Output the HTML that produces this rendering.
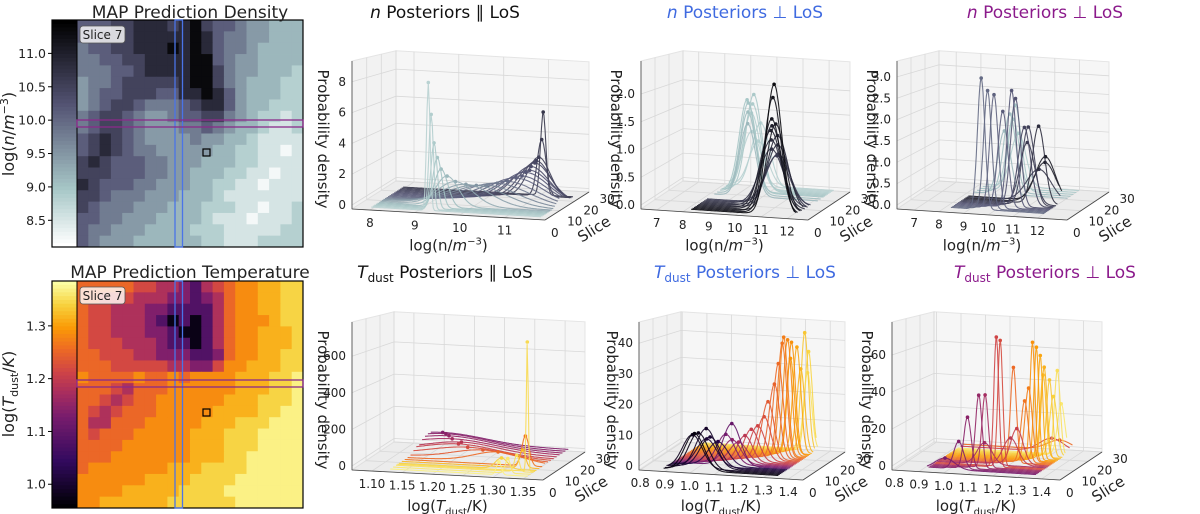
<!DOCTYPE html>
<html><head><meta charset="utf-8"><style>
body{margin:0;background:#fff;}
svg{display:block;font-family:"DejaVu Sans","Liberation Sans",sans-serif;}
</style></head><body>
<svg id="fig" width="1200" height="514" viewBox="0 0 1200 514" xmlns="http://www.w3.org/2000/svg"></svg>
<script>
// ---------- DATA ----------
const densityGrid = [
"33322111210233455666","33222111110134455666","43322111010134456666","44332211110034556666",
"44433211110024556667","54432222210024566677","54332223311013566677","54322344432113566777",
"43223455433224567787","43223455544345667887","32123455554556678888","32123445555566778898",
"21233344555666778888","22233344556667788988","12333445556677889888","22344455566678888888",
"23444555666777889887","33445556666788898887","34455566667778888877","34555666666778887777"];
const tempGrid = [
"55555443321345667788","55444333221235667788","54433322111135667788","54433321010135666788",
"54433322100135667778","54443332110135667778","55444332221125667788","55544444332246677788",
"65555655656666777889","55543555666666777889","55434556666667778889","54345556666677778899",
"53355566666777888999","54555666667778889999","55556666667778889999","55566666667778899999",
"56666666777888899999","66666677778888999999","66667777788889999999","66777777888888999999"];
const densityTicks = [8.5, 9.0, 9.5, 10.0, 10.5, 11.0];
const tempTicks = [1.0, 1.1, 1.2, 1.3];

// Panel 1: n posteriors parallel LoS
const p1Slices = [0,1,2,3,4,5,6,7,8,9,10,11,12,13,14,15,16,17,18,19,20,21];
const p1Peaks = [9.3,9.33,9.36,9.4,9.45,9.55,9.7,9.9,10.1,10.3,10.5,10.7,10.85,10.95,11.0,11.05,11.05,11.1,11.1,11.12,11.15,11.15];
const p1Heights = [8.3,6.2,4.3,3.3,2.5,2.0,1.6,1.4,1.3,1.3,1.4,1.5,1.7,1.8,2.0,2.1,2.3,2.5,2.6,2.8,4.0,5.9];
const p1Widths = [0.04,0.05,0.07,0.1,0.15,0.25,0.4,0.55,0.65,0.7,0.7,0.65,0.6,0.55,0.5,0.45,0.4,0.35,0.3,0.25,0.1,0.06];
const p1Shades = [0.8,0.78,0.76,0.74,0.72,0.7,0.66,0.62,0.58,0.54,0.5,0.46,0.42,0.4,0.38,0.36,0.34,0.32,0.3,0.28,0.26,0.24];
const p1XTicks = [8,9,10,11];
const p1ZTicks = [0,2,4,6,8];

// Panel 2: n posteriors perp LoS (blue)
const p2Slices = [0,1,2,3,4,5,6,7,8,9,10,11,16,18,20,21,22,23,24,25,26,27];
const p2Peaks = [11.5,11.4,11.3,11.4,11.2,11.1,11.3,11.0,11.2,10.9,11.1,11.0,9.6,9.5,9.4,9.3,9.5,9.4,9.3,9.6,9.2,9.4];
const p2Heights = [2.35,2.1,1.7,1.6,1.55,1.45,1.35,1.25,1.15,1.05,0.95,0.9,1.4,1.6,1.75,1.8,1.9,1.7,1.5,1.3,1.1,0.9];
const p2Widths = [0.3,0.32,0.35,0.35,0.38,0.4,0.4,0.42,0.42,0.45,0.45,0.45,0.3,0.3,0.3,0.3,0.3,0.32,0.32,0.35,0.35,0.35];
const p2Shades = [0.05,0.08,0.1,0.12,0.14,0.16,0.18,0.2,0.22,0.24,0.26,0.28,0.7,0.72,0.74,0.75,0.76,0.77,0.78,0.79,0.8,0.8];
const p2XTicks = [7,8,9,10,11,12];
const p2ZTicks = [0,0.5,1.0,1.5,2.0];

// Panel 3: n posteriors perp LoS (purple)
const p3Slices = [2,3,4,5,6,7,8,9,10,11,12,13,14,18,20,22,24,26];
const p3Peaks = [9.6,9.8,10.0,10.3,10.6,10.7,11.0,11.1,11.0,11.4,11.6,11.3,11.5,9.6,9.7,9.8,9.6,9.7];
const p3Heights = [3.1,2.8,2.7,2.3,2.8,2.6,1.9,1.9,1.5,1.9,1.0,0.8,1.1,1.6,2.0,2.2,1.8,1.4];
const p3Widths = [0.15,0.16,0.17,0.2,0.18,0.2,0.25,0.25,0.3,0.25,0.45,0.5,0.4,0.25,0.25,0.25,0.25,0.3];
const p3Shades = [0.45,0.44,0.42,0.4,0.38,0.36,0.3,0.28,0.26,0.2,0.15,0.25,0.12,0.7,0.72,0.74,0.76,0.78];
const p3XTicks = [7,8,9,10,11,12];
const p3ZTicks = [0,0.5,1.0,1.5,2.0,2.5,3.0];

// Panel 4: T posteriors parallel LoS
const p4Slices = [0,2,4,5,6,8,10,12,14,16,18,20,22,24,26,28];
const p4Peaks = [1.31,1.32,1.33,1.345,1.3,1.33,1.33,1.28,1.25,1.22,1.2,1.2,1.18,1.17,1.16,1.15];
const p4Heights = [70,80,90,720,60,100,170,60,55,55,60,60,65,70,70,65];
const p4Widths = [0.004,0.004,0.004,0.0015,0.01,0.005,0.006,0.04,0.05,0.06,0.06,0.06,0.07,0.07,0.07,0.07];
const p4Shades = [0.97,0.95,0.93,0.92,0.9,0.85,0.72,0.7,0.66,0.62,0.58,0.54,0.5,0.46,0.44,0.42];
const p4XTicks = [1.10,1.15,1.20,1.25,1.30,1.35];
const p4ZTicks = [0,200,400,600];

// Panel 5: T posteriors perp LoS (blue)
const p5Slices = [0,1,2,3,4,5,6,7,8,9,10,11,12,13,14,15,16,17,18,19,20,21,22,23,24,25,26,27];
const p5Peaks = [1.02,1.03,1.0,1.05,1.06,1.04,1.08,1.13,1.1,1.12,1.14,1.16,1.18,1.2,1.22,1.23,1.25,1.26,1.27,1.27,1.28,1.29,1.28,1.3,1.31,1.32,1.33,1.32];
const p5Heights = [12,12,11,13,10,9,8,14,10,8,7,9,11,12,15,20,26,33,40,42,41,40,34,38,30,43,36,28];
const p5Widths = [0.04,0.04,0.04,0.04,0.04,0.04,0.04,0.035,0.035,0.035,0.035,0.03,0.03,0.03,0.028,0.025,0.022,0.02,0.018,0.017,0.017,0.016,0.016,0.016,0.016,0.015,0.015,0.016];
const p5Shades = [0.02,0.04,0.06,0.08,0.1,0.12,0.15,0.35,0.4,0.45,0.5,0.55,0.58,0.6,0.63,0.66,0.68,0.7,0.72,0.74,0.76,0.78,0.8,0.82,0.85,0.88,0.91,0.94];
const p5XTicks = [0.8,0.9,1.0,1.1,1.2,1.3,1.4];
const p5ZTicks = [0,10,20,30,40];

// Panel 6: T posteriors perp LoS (purple)
const p6Slices = [1,2,3,4,5,6,7,8,9,10,11,12,13,14,15,16,17,18,19,20,21,22,24,26];
const p6Peaks = [1.0,1.05,1.08,1.12,1.14,1.18,1.19,1.12,1.22,1.24,1.22,1.26,1.27,1.28,1.29,1.3,1.31,1.3,1.32,1.33,1.34,1.35,1.3,1.32];
const p6Heights = [6,15,28,40,40,72,70,12,15,20,54,35,42,68,65,60,53,48,45,35,50,30,8,6];
const p6Widths = [0.04,0.02,0.015,0.013,0.013,0.01,0.01,0.03,0.03,0.025,0.012,0.015,0.015,0.01,0.01,0.01,0.012,0.012,0.012,0.015,0.012,0.015,0.05,0.05];
const p6Shades = [0.4,0.42,0.44,0.46,0.5,0.6,0.62,0.5,0.55,0.58,0.7,0.72,0.74,0.78,0.8,0.82,0.84,0.86,0.88,0.9,0.93,0.95,0.6,0.7];
const p6XTicks = [0.8,0.9,1.0,1.1,1.2,1.3,1.4];
const p6ZTicks = [0,20,40,60];

const sliceTicks = [0,10,20,30];

// ---------- HELPERS ----------
const NS = "http://www.w3.org/2000/svg";
const svg = document.getElementById('fig');
function mk(tag, attrs, parent){
  const e = document.createElementNS(NS, tag);
  for (const k in attrs) e.setAttribute(k, attrs[k]);
  (parent||svg).appendChild(e);
  return e;
}
function lerpStops(stops, t){
  t = Math.max(0, Math.min(1, t));
  for (let i=1;i<stops.length;i++){
    if (t <= stops[i][0]){
      const a = stops[i-1], b = stops[i], f = (t-a[0])/(b[0]-a[0]);
      const c = a[1].map((v,j)=>Math.round(v+(b[1][j]-v)*f));
      return `rgb(${c[0]},${c[1]},${c[2]})`;
    }
  }
  const l = stops[stops.length-1][1]; return `rgb(${l[0]},${l[1]},${l[2]})`;
}
const BONE = [[0,[0,0,0]],[0.375,[84,84,116]],[0.75,[167,199,199]],[1,[255,255,255]]];
const INF = [[0,[0,0,4]],[0.2,[50,10,94]],[0.4,[120,28,109]],[0.5,[165,44,96]],[0.6,[207,68,70]],[0.7,[237,105,37]],[0.8,[251,155,6]],[0.9,[247,209,61]],[1,[252,255,164]]];
const bone = t => lerpStops(BONE, t);
const inferno = t => lerpStops(INF, t);

function text(x, y, str, opts, parent){
  const t = mk('text', Object.assign({x:x, y:y, 'font-size':12, fill:'#222', 'text-anchor':'middle'}, opts||{}), parent);
  t.textContent = str;
  return t;
}

// ---------- HEATMAPS ----------
function heatmap(g, grid, cmap, top, ticks, tmin, tmax, cbInverted, gamma){
  const x0 = 77, w = 226, h = 227, y0 = top;
  const rows = grid.length, cols = grid[0].length;
  const cw = w/cols, ch = h/rows;
  for (let r=0;r<rows;r++) for (let c=0;c<cols;c++){
    const v = +grid[r][c];
    const cell = mk('rect', {x:(x0+c*cw).toFixed(2), y:(y0+r*ch).toFixed(2), width:(cw+0.4).toFixed(2), height:(ch+0.4).toFixed(2), fill:cmap(0.04+0.93*Math.pow(v/9, gamma))}, g);
    
    
  }
  const cb = mk('g', {}, g);
  
  
  for (let i=0;i<60;i++){
    const t = cbInverted ? i/59 : 1 - i/59;
    mk('rect', {x:52, y:(y0+i*h/60).toFixed(2), width:25, height:(h/60+0.4).toFixed(2), fill:cmap(t)}, cb);
  }
  mk('rect', {x:52, y:y0, width:251, height:h, fill:'none', stroke:'#000', 'stroke-width':1.2}, g);
  mk('line', {x1:77, y1:y0, x2:77, y2:y0+h, stroke:'#000', 'stroke-width':1}, g);
  ticks.forEach(v=>{
    const y = y0 + h - (v - tmin)/(tmax - tmin)*h;
    mk('line', {x1:48, x2:52, y1:y, y2:y, stroke:'#000'}, g);
    const lb = text(46, y+4.5, v.toFixed(1), {'font-size':12.5, 'text-anchor':'end'}, g);
    
    
  });
}

const gD = mk('g', {});  
heatmap(gD, densityGrid, bone, 20, densityTicks, 8.1, 11.5, true, 0.85);
const gT = mk('g', {});  
heatmap(gT, tempGrid, inferno, 281, tempTicks, 0.955, 1.385, false, 0.6);

function overlays(top, bandY, sqY){
  const b = mk('rect', {x:175, y:top, width:7.5, height:227, fill:'none', stroke:'#4a74e8', 'stroke-width':1.3});
   
  const p = mk('rect', {x:77, y:bandY, width:226, height:7, fill:'none', stroke:'#8b2a8b', 'stroke-width':1.3});
   
  const s = mk('rect', {x:203, y:sqY, width:7, height:7, fill:'none', stroke:'#000', 'stroke-width':1.2});
   
  const lab = mk('rect', {x:80, y:top+6, width:45, height:17, rx:3, fill:'rgba(255,255,255,0.8)', stroke:'#555', 'stroke-width':0.8});
   
  const t = text(102.5, top+19, 'Slice 7', {'font-size':12});
   
}
overlays(20, 120, 149);
overlays(281, 380, 409);

let e;
e = text(190, 18, 'MAP Prediction Density', {'font-size':17});  
e = text(190, 278, 'MAP Prediction Temperature', {'font-size':17});  
e = mk('text', {x:0, y:0, 'font-size':16, fill:'#222', 'text-anchor':'middle', transform:'translate(14,134) rotate(-90)'});
e.innerHTML = 'log(<tspan font-style="italic">n</tspan>/<tspan font-style="italic">m</tspan><tspan dy="-6" font-size="11">−3</tspan><tspan dy="6">)</tspan>';
 
e = mk('text', {x:0, y:0, 'font-size':16, fill:'#222', 'text-anchor':'middle', transform:'translate(14,394) rotate(-90)'});
e.innerHTML = 'log(<tspan font-style="italic">T</tspan><tspan dy="4" font-size="11">dust</tspan><tspan dy="-4">/</tspan><tspan font-style="italic">K</tspan>)';
 

// ---------- 3D PANELS ----------
const topLayer = [];
function panel3d(cfg, slices, peaks, heights, widths, shades, xTicks, zTicks){
  const g = mk('g', {});
  
  
  const O = cfg.O, X = cfg.X, S = cfg.S, H = 148, NS_ = 29;
  const P = (xf, sf, z) => [O[0] + xf*X[0] + sf*S[0], O[1] + xf*X[1] + sf*S[1] - z*(1 - 0.12*sf)];
  const xs = v => (v - cfg.xmin)/(cfg.xmax - cfg.xmin);
  const pts = a => a.map(p=>p[0].toFixed(1)+','+p[1].toFixed(1)).join(' ');
  mk('polygon', {points:pts([P(0,0,0),P(0,1,0),P(0,1,H),P(0,0,H)]), fill:'#f2f2f2', stroke:'#e4e4e4'}, g);
  mk('polygon', {points:pts([P(0,1,0),P(1,1,0),P(1,1,H),P(0,1,H)]), fill:'#f6f6f6', stroke:'#e4e4e4'}, g);
  mk('polygon', {points:pts([P(0,0,0),P(1,0,0),P(1,1,0),P(0,1,0)]), fill:'#ececec', stroke:'#e0e0e0'}, g);
  xTicks.forEach(v=>{
    const f = xs(v);
    mk('polyline', {points:pts([P(f,0,0),P(f,1,0),P(f,1,H)]), fill:'none', stroke:'#d8d8d8', 'stroke-width':0.8}, g);
  });
  sliceTicks.forEach(v=>{
    const f = v/30;
    mk('polyline', {points:pts([P(1,f,0),P(0,f,0),P(0,f,H)]), fill:'none', stroke:'#d8d8d8', 'stroke-width':0.8}, g);
  });
  zTicks.forEach(v=>{
    const z = v*cfg.zs + 4;
    if (z > H) return;
    mk('polyline', {points:pts([P(0,0,z),P(0,1,z),P(1,1,z)]), fill:'none', stroke:'#d8d8d8', 'stroke-width':0.8}, g);
  });
  mk('line', {x1:P(0,0,0)[0], y1:P(0,0,0)[1], x2:P(1,0,0)[0], y2:P(1,0,0)[1], stroke:'#444', 'stroke-width':0.8}, g);
  mk('line', {x1:P(1,0,0)[0], y1:P(1,0,0)[1], x2:P(1,1,0)[0], y2:P(1,1,0)[1], stroke:'#444', 'stroke-width':0.8}, g);
  mk('line', {x1:P(0,0,0)[0], y1:P(0,0,0)[1], x2:P(0,0,H)[0], y2:P(0,0,H)[1], stroke:'#444', 'stroke-width':0.8}, g);
  xTicks.forEach(v=>{
    const p = P(xs(v),0,0);
    const t = text(p[0], p[1]+17, cfg.xfmt(v), {'font-size':12}, g);
     
  });
  zTicks.forEach(v=>{
    const z = v*cfg.zs + 4;
    if (z > H) return;
    const p = P(0,0,z);
    const t = text(p[0]-6, p[1]+4, cfg.zfmt(v), {'font-size':12, 'text-anchor':'end'}, g);
     
  });
  const xp = P(0.5,0,0);
  e = mk('text', {x:xp[0], y:xp[1]+36, 'font-size':15, fill:'#222', 'text-anchor':'middle'}, g);
  e.innerHTML = cfg.xlabel;
   
  e = text(0, 0, 'Probability density', {'font-size':15, transform:`translate(${O[0]-cfg.zlo},${O[1]-70}) rotate(90)`}, g);
   
  e = mk('text', {x:cfg.tx, y:cfg.ty, 'font-size':17, fill:cfg.tcol, 'text-anchor':'middle'}, g);
  e.innerHTML = cfg.title;
   
  const order = slices.map((s,i)=>i).sort((a,b)=>slices[b]-slices[a]);
  const N = 140;
  order.forEach(i=>{
    const sf = slices[i]/NS_;
    const col = cfg.cmap(shades[i]);
    const arr = [];
    for (let k=0;k<=N;k++){
      const xv = cfg.xmin + (cfg.xmax - cfg.xmin)*(cfg.lo + (cfg.hi - cfg.lo)*k/N);
      const d = (xv - peaks[i])/widths[i];
      const yv = heights[i]*Math.exp(-0.5*d*d);
      arr.push(P(xs(xv), sf, yv*cfg.zs + 3));
    }
    const c = mk('polyline', {points:pts(arr), fill:'none', stroke:col, 'stroke-width':1.1, 'stroke-opacity':0.9}, g);
    
    
    const pk = P(xs(peaks[i]), sf, heights[i]*cfg.zs + 3);
    const m = mk('circle', {cx:pk[0].toFixed(1), cy:pk[1].toFixed(1), r:1.8, fill:col}, g);
    
    
  });
  topLayer.push({P:P});
}
function sliceLabels(P){
  const g = mk('g', {});
  
  
  sliceTicks.forEach((v,i)=>{
    const p = P(1, v/30, 0);
    const t = text(p[0]+6+i*1.5, p[1]+17-i*2, String(v), {'font-size':12, 'text-anchor':'start'}, g);
     
  });
  const sp = P(1,0.45,0);
  const lx = sp[0]+32, ly = sp[1]+26;
  const t = text(lx, ly, 'Slice', {'font-size':15, transform:`rotate(-32 ${lx} ${ly})`}, g);
   
}

const nLabel = 'log(n/<tspan font-style="italic">m</tspan><tspan dy="-6" font-size="10">−3</tspan><tspan dy="6">)</tspan>';
const tLabel = 'log(<tspan font-style="italic">T</tspan><tspan dy="4" font-size="10">dust</tspan><tspan dy="-4">/K)</tspan>';
const f1 = v=>String(v), f1d = v=>v.toFixed(1), f2d = v=>v.toFixed(2);

panel3d({name:'n-posteriors-parallel', O:[352,209], X:[193,11], S:[44,-28], xmin:7.6, xmax:11.9, zs:15.4, lo:0.1, hi:0.98, zlo:34,
  cmap:bone, xfmt:f1, zfmt:f1, xlabel:nLabel, tx:445, ty:18, tcol:'#111',
  title:'<tspan font-style="italic">n</tspan> Posteriors ∥ LoS'},
  p1Slices, p1Peaks, p1Heights, p1Widths, p1Shades, p1XTicks, p1ZTicks);
panel3d({name:'n-posteriors-perp-blue', O:[641,209], X:[167,11], S:[42,-28], xmin:6.4, xmax:12.8, zs:55.5, lo:0.3, hi:0.92, zlo:30,
  cmap:bone, xfmt:f1, zfmt:f1d, xlabel:nLabel, tx:745, ty:18, tcol:'#3f6ae0',
  title:'<tspan font-style="italic">n</tspan> Posteriors ⊥ LoS'},
  p2Slices, p2Peaks, p2Heights, p2Widths, p2Shades, p2XTicks, p2ZTicks);
panel3d({name:'n-posteriors-perp-purple', O:[897,209], X:[170,11], S:[42,-28], xmin:6.3, xmax:13.2, zs:42.7, lo:0.3, hi:0.85, zlo:30,
  cmap:bone, xfmt:f1, zfmt:f1d, xlabel:nLabel, tx:1045, ty:18, tcol:'#8b1a8b',
  title:'<tspan font-style="italic">n</tspan> Posteriors ⊥ LoS'},
  p3Slices, p3Peaks, p3Heights, p3Widths, p3Shades, p3XTicks, p3ZTicks);
panel3d({name:'t-posteriors-parallel', O:[352,470], X:[191,10], S:[42,-28], xmin:1.067, xmax:1.383, zs:0.183, lo:0.2, hi:0.92, zlo:34,
  cmap:inferno, xfmt:f2d, zfmt:f1, xlabel:tLabel, tx:445, ty:278, tcol:'#111',
  title:'<tspan font-style="italic">T</tspan><tspan dy="4" font-size="12">dust</tspan><tspan dy="-4"> Posteriors ∥ LoS</tspan>'},
  p4Slices, p4Peaks, p4Heights, p4Widths, p4Shades, p4XTicks, p4ZTicks);
panel3d({name:'t-posteriors-perp-blue', O:[639,470], X:[164,10], S:[42,-28], xmin:0.795, xmax:1.46, zs:3.07, lo:0.15, hi:0.85, zlo:32,
  cmap:inferno, xfmt:f1d, zfmt:f1, xlabel:tLabel, tx:745, ty:278, tcol:'#3f6ae0',
  title:'<tspan font-style="italic">T</tspan><tspan dy="4" font-size="12">dust</tspan><tspan dy="-4"> Posteriors ⊥ LoS</tspan>'},
  p5Slices, p5Peaks, p5Heights, p5Widths, p5Shades, p5XTicks, p5ZTicks);
panel3d({name:'t-posteriors-perp-purple', O:[892,470], X:[168,10], S:[42,-28], xmin:0.79, xmax:1.475, zs:1.85, lo:0.2, hi:0.85, zlo:30,
  cmap:inferno, xfmt:f1d, zfmt:f1, xlabel:tLabel, tx:1045, ty:278, tcol:'#8b1a8b',
  title:'<tspan font-style="italic">T</tspan><tspan dy="4" font-size="12">dust</tspan><tspan dy="-4"> Posteriors ⊥ LoS</tspan>'},
  p6Slices, p6Peaks, p6Heights, p6Widths, p6Shades, p6XTicks, p6ZTicks);
topLayer.forEach(t=>sliceLabels(t.P));
</script>
</body></html>
